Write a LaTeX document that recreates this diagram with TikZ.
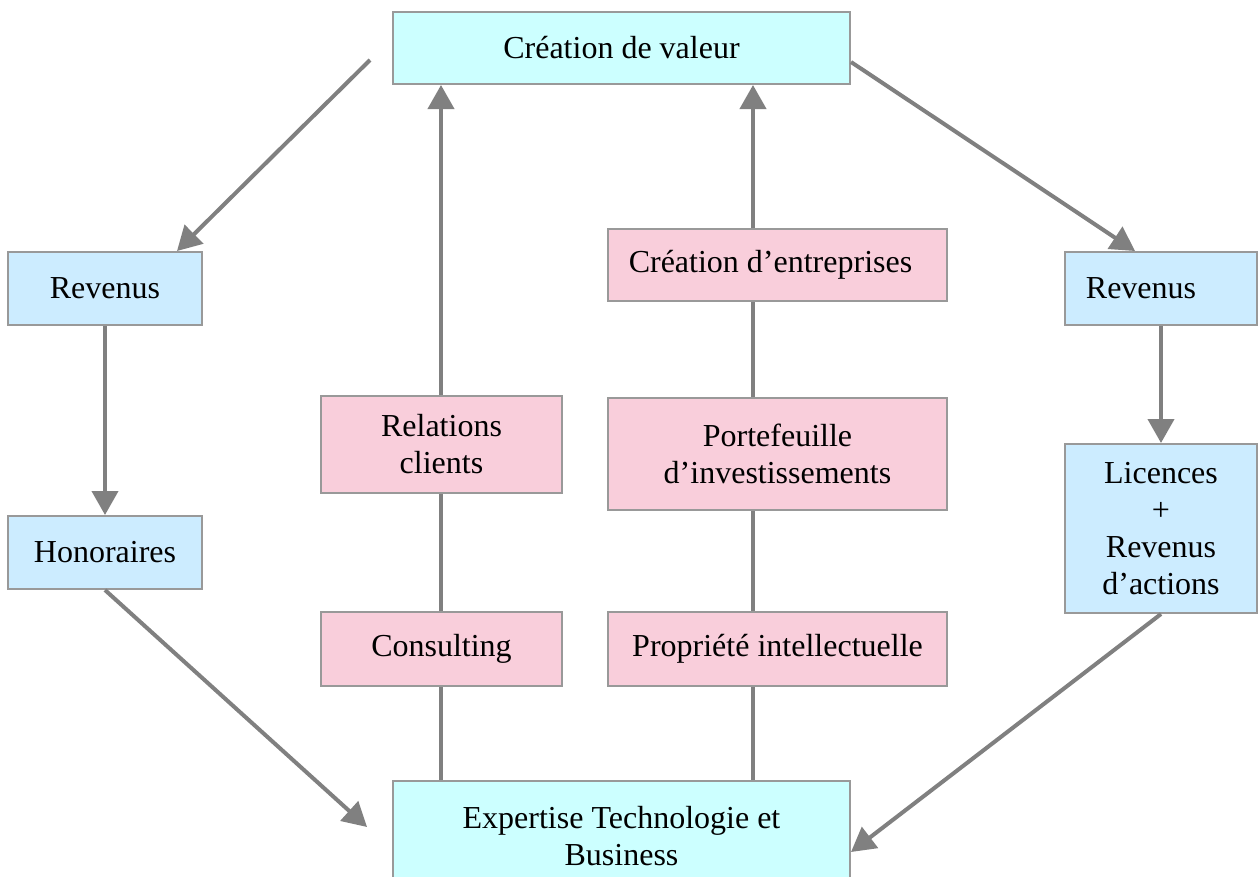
\documentclass[tikz,border=0pt]{standalone}
\usepackage{fontspec}
\setmainfont{Liberation Serif}
\usetikzlibrary{arrows.meta,calc}
\definecolor{cyanbox}{HTML}{CCFFFF}
\definecolor{bluebox}{HTML}{CCECFF}
\definecolor{pinkbox}{HTML}{F9CEDB}
\definecolor{borderg}{HTML}{999999}
\definecolor{arrowg}{HTML}{808080}
\tikzset{
  box/.style={draw=borderg,line width=2pt,inner sep=0pt,align=center,
    font=\fontsize{32}{37}\selectfont},
  cbox/.style={box,fill=cyanbox},
  bbox/.style={box,fill=bluebox},
  pbox/.style={box,fill=pinkbox},
  conn/.style={draw=arrowg,line width=4pt},
  arr/.style={conn,-{Triangle[length=24pt,width=26pt]}},
}
\begin{document}
\begin{tikzpicture}[x=1pt,y=-1pt]
\clip (0,0) rectangle (1259,876);
\fill[white] (0,0) rectangle (1259,876);
% nodes
\node[cbox,minimum width=457pt,minimum height=72pt] (top) at (621.5,48) {Création de valeur};
\node[cbox,minimum width=457pt,minimum height=110pt] (bot) at (621.5,836) {Expertise Technologie et\\Business};
\node[bbox,minimum width=194pt,minimum height=73pt] (revL) at (105,288.5) {Revenus};
\node[bbox,minimum width=194pt,minimum height=73pt] (hon) at (105,552.5) {Honoraires};
\node[bbox,minimum width=192pt,minimum height=73pt] (revR) at (1161,288.5) {Revenus\hspace{40pt}};
\node[bbox,minimum width=192pt,minimum height=169pt] (lic) at (1161,528.5) {Licences\\+\\Revenus\\d’actions};
\node[pbox,minimum width=241pt,minimum height=97pt] (rel) at (441.5,444.5) {Relations\\clients};
\node[pbox,minimum width=241pt,minimum height=74pt] (cons) at (441.5,649) {Consulting};
\node[pbox,minimum width=339pt,minimum height=72pt] (ent) at (777.5,265) {Création d’entreprises\hspace{14pt}};
\node[pbox,minimum width=339pt,minimum height=112pt] (port) at (777.5,454) {Portefeuille\\d’investissements};
\node[pbox,minimum width=339pt,minimum height=74pt] (prop) at (777.5,649) {Propriété intellectuelle};
% helper coordinates
\coordinate (tl) at (370,60);
\coordinate (vL) at (441,0);
\coordinate (vR) at (753,0);
% outer arrows
\draw[arr] (tl) -- ([xshift=72pt]revL.north);
\draw[arr] ([yshift=-14pt]top.east) -- ([xshift=-26pt]revR.north);
\draw[arr] (revL.south) -- (hon.north);
\draw[arr] (revR.south) -- (lic.north);
\draw[arr] (hon.south) -- ([xshift=-25pt,yshift=9pt]bot.west);
\draw[arr] (lic.south) -- ([yshift=-16pt]bot.east);
% left column
\draw[conn] (vL |- bot.north) -- (vL |- cons.south);
\draw[conn] (vL |- cons.north) -- (vL |- rel.south);
\draw[arr] (vL |- rel.north) -- (vL |- top.south);
% right column
\draw[conn] (vR |- bot.north) -- (vR |- prop.south);
\draw[conn] (vR |- prop.north) -- (vR |- port.south);
\draw[conn] (vR |- port.north) -- (vR |- ent.south);
\draw[arr] (vR |- ent.north) -- (vR |- top.south);
\end{tikzpicture}
\end{document}
